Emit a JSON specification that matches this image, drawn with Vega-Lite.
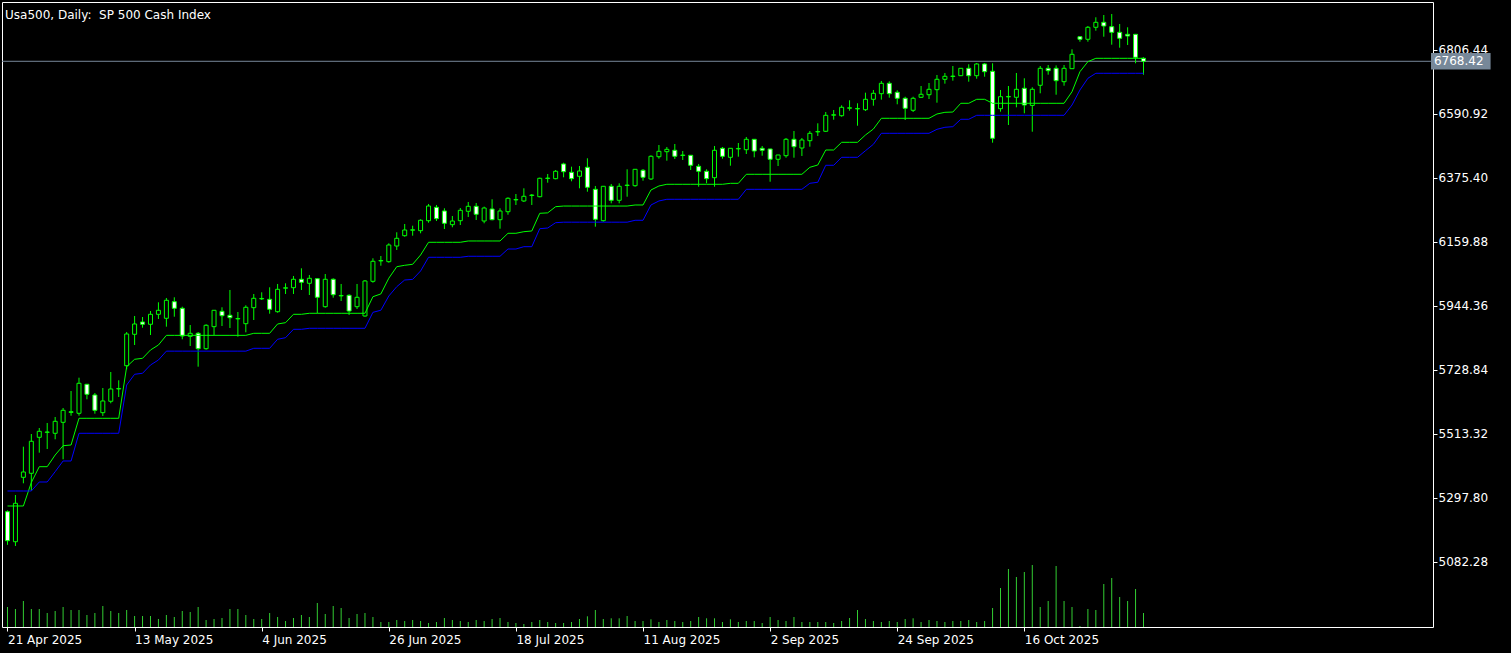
{
"$schema": "https://vega.github.io/schema/vega-lite/v6.json",
"width": 1431, "height": 625,
"autosize": {"type": "none"},
"padding": {"left": 2, "top": 2, "right": 78, "bottom": 26},
"background": "#000000",
"config": {"view": {"stroke": "#ffffff", "strokeWidth": 1}},
"title": {"text": "Usa500, Daily: \u00a0SP 500 Cash Index", "anchor": "start", "frame": "group", "orient": "top", "offset": -15, "dy": 14, "baseline": "alphabetic", "dx": 3, "color": "#ffffff", "font": "DejaVu Sans", "fontSize": 12, "fontWeight": "normal"},
"data": {"values": [
{"i":0,"open":5251.7,"high":5256,"low":5140,"close":5154,"trail1":5270.9,"trail2":5321.4,"volume":20000},
{"i":1,"open":5150.6,"high":5307.9,"low":5136.2,"close":5280,"trail1":5270.9,"trail2":5321.4,"volume":18000},
{"i":2,"open":5367.5,"high":5470.6,"low":5347.3,"close":5385.4,"trail1":5270.9,"trail2":5321.4,"volume":26000},
{"i":3,"open":5381,"high":5513.3,"low":5322.4,"close":5488.8,"trail1":5350,"trail2":5321.4,"volume":18000},
{"i":4,"open":5502.2,"high":5533.5,"low":5450.4,"close":5522.4,"trail1":5403.2,"trail2":5351.7,"volume":18000},
{"i":5,"open":5519,"high":5550.4,"low":5462.8,"close":5520,"trail1":5403.2,"trail2":5351.7,"volume":14000},
{"i":6,"open":5515.7,"high":5570.6,"low":5495.5,"close":5556,"trail1":5442.6,"trail2":5386.4,"volume":16000},
{"i":7,"open":5552.7,"high":5600.9,"low":5428.1,"close":5593.1,"trail1":5473.9,"trail2":5422.4,"volume":20000},
{"i":8,"open":5586,"high":5658.1,"low":5575,"close":5588.5,"trail1":5476.3,"trail2":5422.4,"volume":17000},
{"i":9,"open":5583,"high":5702.9,"low":5575,"close":5684.1,"trail1":5566.2,"trail2":5515.7,"volume":17000},
{"i":10,"open":5680.7,"high":5682,"low":5630.2,"close":5647,"trail1":5566.2,"trail2":5515.7,"volume":12000},
{"i":11,"open":5644.7,"high":5651.4,"low":5581.7,"close":5593.1,"trail1":5566.2,"trail2":5515.7,"volume":14000},
{"i":12,"open":5585.1,"high":5668.2,"low":5574,"close":5624.5,"trail1":5566.2,"trail2":5515.7,"volume":21000},
{"i":13,"open":5623.5,"high":5722.1,"low":5616.7,"close":5664.9,"trail1":5566.2,"trail2":5515.7,"volume":16000},
{"i":14,"open":5665,"high":5694.2,"low":5637.9,"close":5666.5,"trail1":5566.2,"trail2":5515.7,"volume":14000},
{"i":15,"open":5743.3,"high":5856.8,"low":5731.2,"close":5850.1,"trail1":5740,"trail2":5678.3,"volume":17000},
{"i":16,"open":5849.1,"high":5910.7,"low":5813,"close":5883.8,"trail1":5764.9,"trail2":5714.4,"volume":11000},
{"i":17,"open":5890.5,"high":5907.3,"low":5871.3,"close":5882.8,"trail1":5768.2,"trail2":5717.8,"volume":11000},
{"i":18,"open":5882.8,"high":5927.5,"low":5846.7,"close":5916.4,"trail1":5796.2,"trail2":5745.7,"volume":11000},
{"i":19,"open":5916.4,"high":5956.8,"low":5900.6,"close":5929.9,"trail1":5813,"trail2":5762.5,"volume":8000},
{"i":20,"open":5903,"high":5971.3,"low":5874.7,"close":5963.6,"trail1":5845.5,"trail2":5792.3,"volume":12000},
{"i":21,"open":5958.9,"high":5973.7,"low":5908.3,"close":5936.6,"trail1":5845.5,"trail2":5792.3,"volume":10000},
{"i":22,"open":5936.6,"high":5942,"low":5832.3,"close":5843.4,"trail1":5845.5,"trail2":5792.3,"volume":16000},
{"i":23,"open":5842.3,"high":5880.4,"low":5809.7,"close":5852.4,"trail1":5845.5,"trail2":5792.3,"volume":15000},
{"i":24,"open":5852.4,"high":5856.8,"low":5740,"close":5800.6,"trail1":5845.5,"trail2":5792.3,"volume":20000},
{"i":25,"open":5800.6,"high":5882.8,"low":5797.2,"close":5879.4,"trail1":5845.5,"trail2":5792.3,"volume":7000},
{"i":26,"open":5874.7,"high":5931,"low":5846.7,"close":5929.9,"trail1":5845.5,"trail2":5792.3,"volume":8000},
{"i":27,"open":5926.5,"high":5940,"low":5877,"close":5911.7,"trail1":5845.5,"trail2":5792.3,"volume":9000},
{"i":28,"open":5913,"high":5998.3,"low":5870.3,"close":5905,"trail1":5845.5,"trail2":5792.3,"volume":18000},
{"i":29,"open":5901,"high":5924.2,"low":5841,"close":5902.2,"trail1":5845.5,"trail2":5792.3,"volume":18000},
{"i":30,"open":5884.8,"high":5946.7,"low":5855.8,"close":5940,"trail1":5845.5,"trail2":5792.3,"volume":12000},
{"i":31,"open":5938.7,"high":5984.8,"low":5897.2,"close":5970.3,"trail1":5852.4,"trail2":5801.9,"volume":8000},
{"i":32,"open":5968.3,"high":5990.5,"low":5964.6,"close":5969.7,"trail1":5852.4,"trail2":5801.9,"volume":8000},
{"i":33,"open":5966.9,"high":6007.3,"low":5918.4,"close":5933.3,"trail1":5852.4,"trail2":5801.9,"volume":14000},
{"i":34,"open":5925.2,"high":6018.5,"low":5921.8,"close":6000.6,"trail1":5883.8,"trail2":5832.3,"volume":10000},
{"i":35,"open":6004.3,"high":6020.8,"low":5984.8,"close":6005.7,"trail1":5888.2,"trail2":5837.6,"volume":6000},
{"i":36,"open":6006,"high":6045.4,"low":5984.8,"close":6034.3,"trail1":5916.4,"trail2":5865.9,"volume":9000},
{"i":37,"open":6034.3,"high":6071.3,"low":5998.3,"close":6024.2,"trail1":5916.4,"trail2":5865.9,"volume":12000},
{"i":38,"open":6020.8,"high":6048.8,"low":5981.4,"close":6037.7,"trail1":5919.8,"trail2":5869.3,"volume":10000},
{"i":39,"open":6036.3,"high":6037,"low":5919.8,"close":5973.7,"trail1":5919.8,"trail2":5869.3,"volume":24000},
{"i":40,"open":5942,"high":6052.1,"low":5938.7,"close":6034.3,"trail1":5919.8,"trail2":5869.3,"volume":13000},
{"i":41,"open":6034.3,"high":6037.7,"low":5972.3,"close":5982.4,"trail1":5919.8,"trail2":5869.3,"volume":21000},
{"i":42,"open":5978.4,"high":6018.5,"low":5961.2,"close":5979.8,"trail1":5919.8,"trail2":5869.3,"volume":19000},
{"i":43,"open":5980.4,"high":5983.8,"low":5914.1,"close":5927.5,"trail1":5919.8,"trail2":5869.3,"volume":9000},
{"i":44,"open":5942,"high":6018.5,"low":5934.3,"close":5973.7,"trail1":5919.8,"trail2":5869.3,"volume":13000},
{"i":45,"open":5910.7,"high":6031.9,"low":5908.3,"close":6028.6,"trail1":5919.8,"trail2":5869.3,"volume":14000},
{"i":46,"open":6027.5,"high":6105,"low":6022.8,"close":6094.9,"trail1":5975.7,"trail2":5923.1,"volume":10000},
{"i":47,"open":6096.2,"high":6112.8,"low":6080.1,"close":6097.6,"trail1":5985,"trail2":5930,"volume":5000},
{"i":48,"open":6093.6,"high":6155.5,"low":6090.2,"close":6149.8,"trail1":6038,"trail2":5978,"volume":5000},
{"i":49,"open":6146.4,"high":6192.6,"low":6133,"close":6172.3,"trail1":6076.7,"trail2":6009.4,"volume":7000},
{"i":50,"open":6181.1,"high":6220.5,"low":6177.7,"close":6200.3,"trail1":6081.4,"trail2":6031.9,"volume":6000},
{"i":51,"open":6199.6,"high":6214.8,"low":6181.1,"close":6201,"trail1":6084.8,"trail2":6034,"volume":7000},
{"i":52,"open":6198,"high":6236.3,"low":6189.2,"close":6233,"trail1":6116.1,"trail2":6062.3,"volume":6000},
{"i":53,"open":6231.6,"high":6287.9,"low":6224.9,"close":6281.1,"trail1":6158.9,"trail2":6108.4,"volume":4000},
{"i":54,"open":6276.7,"high":6284.5,"low":6230.6,"close":6238.4,"trail1":6158.9,"trail2":6108.4,"volume":5000},
{"i":55,"open":6264.3,"high":6273.4,"low":6203.7,"close":6222.9,"trail1":6158.9,"trail2":6108.4,"volume":9000},
{"i":56,"open":6218.2,"high":6247.5,"low":6209.4,"close":6230.6,"trail1":6158.9,"trail2":6108.4,"volume":7000},
{"i":57,"open":6231.6,"high":6274.4,"low":6217.1,"close":6266.6,"trail1":6158.9,"trail2":6108.4,"volume":6000},
{"i":58,"open":6263.3,"high":6294.6,"low":6244.1,"close":6280.1,"trail1":6163.3,"trail2":6111.8,"volume":5000},
{"i":59,"open":6280.1,"high":6291.2,"low":6234,"close":6253.2,"trail1":6163.3,"trail2":6111.8,"volume":7000},
{"i":60,"open":6230.6,"high":6278.9,"low":6222.9,"close":6274.4,"trail1":6163.3,"trail2":6111.8,"volume":6000},
{"i":61,"open":6271,"high":6303.7,"low":6232.9,"close":6235,"trail1":6163.3,"trail2":6111.8,"volume":8000},
{"i":62,"open":6235,"high":6273.4,"low":6204.7,"close":6264.3,"trail1":6163.3,"trail2":6111.8,"volume":9000},
{"i":63,"open":6261.9,"high":6310.4,"low":6251.8,"close":6307.1,"trail1":6189.2,"trail2":6136.3,"volume":5000},
{"i":64,"open":6301.6,"high":6321.5,"low":6284.5,"close":6303,"trail1":6189.2,"trail2":6136.3,"volume":4000},
{"i":65,"open":6298,"high":6340.7,"low":6294.6,"close":6313.8,"trail1":6194.6,"trail2":6144.1,"volume":3000},
{"i":66,"open":6316.5,"high":6321.5,"low":6284.5,"close":6317.9,"trail1":6197,"trail2":6144.1,"volume":5000},
{"i":67,"open":6312.4,"high":6376.4,"low":6310.4,"close":6374.4,"trail1":6256.5,"trail2":6204.7,"volume":7000},
{"i":68,"open":6373.7,"high":6388.9,"low":6359.6,"close":6375.1,"trail1":6258,"trail2":6207,"volume":5000},
{"i":69,"open":6373.1,"high":6402.3,"low":6371,"close":6398,"trail1":6278.8,"trail2":6224.9,"volume":4000},
{"i":70,"open":6422.6,"high":6426.9,"low":6377.8,"close":6396.6,"trail1":6281,"trail2":6226.6,"volume":4000},
{"i":71,"open":6394.6,"high":6413.5,"low":6364.3,"close":6373.1,"trail1":6281,"trail2":6226.6,"volume":5000},
{"i":72,"open":6381.1,"high":6415.8,"low":6340.7,"close":6399,"trail1":6281,"trail2":6226.6,"volume":8000},
{"i":73,"open":6411.4,"high":6441.8,"low":6329.3,"close":6344.1,"trail1":6281,"trail2":6226.6,"volume":10700},
{"i":74,"open":6337.3,"high":6348.5,"low":6211.4,"close":6236.3,"trail1":6281,"trail2":6226.6,"volume":17000},
{"i":75,"open":6231.6,"high":6348,"low":6228.3,"close":6347.5,"trail1":6281,"trail2":6226.6,"volume":8000},
{"i":76,"open":6347.5,"high":6355.2,"low":6290.2,"close":6300.3,"trail1":6281,"trail2":6226.6,"volume":8700},
{"i":77,"open":6300.3,"high":6357.5,"low":6290.2,"close":6347.5,"trail1":6281,"trail2":6226.6,"volume":8700},
{"i":78,"open":6350.1,"high":6404.7,"low":6312.4,"close":6351.5,"trail1":6281,"trail2":6226.6,"volume":11000},
{"i":79,"open":6349.5,"high":6405,"low":6346.1,"close":6404.7,"trail1":6284.5,"trail2":6233,"volume":6000},
{"i":80,"open":6401.3,"high":6405.7,"low":6366.3,"close":6377.8,"trail1":6284.5,"trail2":6233,"volume":6000},
{"i":81,"open":6372.1,"high":6451.9,"low":6368.7,"close":6448.5,"trail1":6335,"trail2":6284.5,"volume":7700},
{"i":82,"open":6447.1,"high":6486.5,"low":6440.4,"close":6465.3,"trail1":6348.5,"trail2":6298,"volume":5000},
{"i":83,"open":6464,"high":6479.8,"low":6433.7,"close":6472,"trail1":6354.2,"trail2":6303.7,"volume":7000},
{"i":84,"open":6468.7,"high":6489.9,"low":6439.4,"close":6448.5,"trail1":6354.2,"trail2":6303.7,"volume":6000},
{"i":85,"open":6451.2,"high":6466.3,"low":6436,"close":6452.6,"trail1":6354.2,"trail2":6303.7,"volume":5000},
{"i":86,"open":6451.9,"high":6452.5,"low":6402.3,"close":6418.2,"trail1":6354.2,"trail2":6303.7,"volume":6000},
{"i":87,"open":6414.8,"high":6422.6,"low":6346.1,"close":6398,"trail1":6354.2,"trail2":6303.7,"volume":10000},
{"i":88,"open":6398,"high":6404.7,"low":6357.6,"close":6373.1,"trail1":6354.2,"trail2":6303.7,"volume":8700},
{"i":89,"open":6376.4,"high":6483.2,"low":6346.1,"close":6468.7,"trail1":6354.2,"trail2":6303.7,"volume":8700},
{"i":90,"open":6475.4,"high":6479.8,"low":6440.4,"close":6448.5,"trail1":6354.2,"trail2":6303.7,"volume":5000},
{"i":91,"open":6445.1,"high":6476,"low":6416.8,"close":6475.4,"trail1":6357.5,"trail2":6303.7,"volume":7700},
{"i":92,"open":6473.4,"high":6493.3,"low":6447.1,"close":6474.8,"trail1":6357.5,"trail2":6303.7,"volume":5000},
{"i":93,"open":6470.7,"high":6513.5,"low":6456.2,"close":6505.7,"trail1":6387.9,"trail2":6337.3,"volume":6000},
{"i":94,"open":6505.7,"high":6506.3,"low":6445.1,"close":6466.3,"trail1":6387.9,"trail2":6337.3,"volume":6000},
{"i":95,"open":6475.4,"high":6483.2,"low":6450.5,"close":6468.7,"trail1":6387.9,"trail2":6337.3,"volume":4000},
{"i":96,"open":6473.1,"high":6473.6,"low":6362.9,"close":6438.4,"trail1":6387.9,"trail2":6337.3,"volume":10000},
{"i":97,"open":6438.4,"high":6453.4,"low":6415.8,"close":6452.9,"trail1":6387.9,"trail2":6337.3,"volume":7000},
{"i":98,"open":6450.5,"high":6510.1,"low":6443.8,"close":6505.7,"trail1":6387.9,"trail2":6337.3,"volume":6000},
{"i":99,"open":6505.7,"high":6533.7,"low":6443.8,"close":6480.8,"trail1":6387.9,"trail2":6337.3,"volume":10000},
{"i":100,"open":6476.4,"high":6510.1,"low":6449.5,"close":6503.4,"trail1":6387.9,"trail2":6337.3,"volume":5000},
{"i":101,"open":6501,"high":6533.7,"low":6480.8,"close":6525.9,"trail1":6411.4,"trail2":6357.6,"volume":5000},
{"i":102,"open":6530.6,"high":6559.6,"low":6516.9,"close":6532,"trail1":6419.2,"trail2":6361,"volume":5000},
{"i":103,"open":6532.7,"high":6597.7,"low":6530.3,"close":6586.5,"trail1":6469.7,"trail2":6418.2,"volume":5000},
{"i":104,"open":6586.9,"high":6604.4,"low":6571.7,"close":6588.3,"trail1":6469.7,"trail2":6418.2,"volume":4000},
{"i":105,"open":6585.2,"high":6620.2,"low":6581.8,"close":6613.5,"trail1":6495.6,"trail2":6445.1,"volume":6000},
{"i":106,"open":6610.4,"high":6637.1,"low":6602.1,"close":6611.8,"trail1":6495.6,"trail2":6445.1,"volume":9000},
{"i":107,"open":6608.1,"high":6627,"low":6551.5,"close":6609.5,"trail1":6495.6,"trail2":6445.1,"volume":17000},
{"i":108,"open":6605.4,"high":6662.7,"low":6601,"close":6640.4,"trail1":6520.2,"trail2":6467.3,"volume":8000},
{"i":109,"open":6640.4,"high":6671.8,"low":6618.9,"close":6660.6,"trail1":6540.4,"trail2":6488.9,"volume":6000},
{"i":110,"open":6659.3,"high":6702.1,"low":6639.3,"close":6694.3,"trail1":6576.5,"trail2":6525.9,"volume":5000},
{"i":111,"open":6694.3,"high":6701,"low":6645.8,"close":6659.3,"trail1":6576.5,"trail2":6525.9,"volume":6000},
{"i":112,"open":6664,"high":6670.8,"low":6623.6,"close":6643.8,"trail1":6576.5,"trail2":6525.9,"volume":5000},
{"i":113,"open":6643.8,"high":6649.1,"low":6570.7,"close":6610.1,"trail1":6576.5,"trail2":6525.9,"volume":8000},
{"i":114,"open":6603.4,"high":6649.1,"low":6597.7,"close":6643.8,"trail1":6576.5,"trail2":6525.9,"volume":8700},
{"i":115,"open":6647.2,"high":6685.2,"low":6644.8,"close":6657.3,"trail1":6576.5,"trail2":6525.9,"volume":5000},
{"i":116,"open":6655.9,"high":6695.3,"low":6641.4,"close":6674.1,"trail1":6576.5,"trail2":6525.9,"volume":7000},
{"i":117,"open":6672.8,"high":6722.3,"low":6629,"close":6707.8,"trail1":6590.9,"trail2":6539.4,"volume":6000},
{"i":118,"open":6707.8,"high":6729,"low":6693,"close":6717.9,"trail1":6596.6,"trail2":6546.1,"volume":5000},
{"i":119,"open":6717.2,"high":6752.6,"low":6703.1,"close":6718.6,"trail1":6597.5,"trail2":6548.2,"volume":6000},
{"i":120,"open":6719.9,"high":6745.5,"low":6719.2,"close":6744.8,"trail1":6627,"trail2":6573.1,"volume":6000},
{"i":121,"open":6744.8,"high":6758.3,"low":6699.7,"close":6719.9,"trail1":6627,"trail2":6573.1,"volume":7000},
{"i":122,"open":6719.9,"high":6762.7,"low":6709.8,"close":6759.3,"trail1":6640.4,"trail2":6586.5,"volume":5000},
{"i":123,"open":6759.3,"high":6762.7,"low":6716.5,"close":6733.4,"trail1":6640.4,"trail2":6586.5,"volume":6000},
{"i":124,"open":6734.7,"high":6761.7,"low":6494.3,"close":6509.1,"trail1":6627,"trail2":6586.5,"volume":19000},
{"i":125,"open":6608.8,"high":6671.8,"low":6598.7,"close":6649.2,"trail1":6627,"trail2":6586.5,"volume":39000},
{"i":126,"open":6648.5,"high":6685.2,"low":6553.9,"close":6649.9,"trail1":6627,"trail2":6586.5,"volume":58000},
{"i":127,"open":6647.2,"high":6729,"low":6613.5,"close":6674.1,"trail1":6627,"trail2":6586.5,"volume":50000},
{"i":128,"open":6677.5,"high":6711.2,"low":6593.3,"close":6621.2,"trail1":6627,"trail2":6586.5,"volume":55000},
{"i":129,"open":6619.9,"high":6680.8,"low":6531.3,"close":6674.1,"trail1":6627,"trail2":6586.5,"volume":62000},
{"i":130,"open":6687.6,"high":6752.6,"low":6660.6,"close":6744.8,"trail1":6627,"trail2":6586.5,"volume":20000},
{"i":131,"open":6744.8,"high":6755.9,"low":6723.3,"close":6736.8,"trail1":6627,"trail2":6586.5,"volume":26000},
{"i":132,"open":6744.8,"high":6754.6,"low":6655.9,"close":6703.1,"trail1":6627,"trail2":6586.5,"volume":61000},
{"i":133,"open":6699.7,"high":6755.9,"low":6686.2,"close":6744.8,"trail1":6627,"trail2":6586.5,"volume":26000},
{"i":134,"open":6743.5,"high":6808.8,"low":6743,"close":6792,"trail1":6666,"trail2":6621.2,"volume":20000},
{"i":135,"open":6851.2,"high":6851.5,"low":6834.4,"close":6842.5,"trail1":6733.4,"trail2":6671.8,"volume":1000},
{"i":136,"open":6842.5,"high":6887.3,"low":6834.4,"close":6882.9,"trail1":6767.1,"trail2":6711.2,"volume":18000},
{"i":137,"open":6882.9,"high":6916.6,"low":6871.5,"close":6899.7,"trail1":6778.5,"trail2":6728,"volume":17000},
{"i":138,"open":6899.7,"high":6924.3,"low":6851.2,"close":6887.3,"trail1":6778.5,"trail2":6728,"volume":43000},
{"i":139,"open":6884.9,"high":6927.7,"low":6824.3,"close":6866,"trail1":6778.5,"trail2":6728,"volume":49000},
{"i":140,"open":6866,"high":6894,"low":6814.2,"close":6845.9,"trail1":6778.5,"trail2":6728,"volume":30000},
{"i":141,"open":6859.3,"high":6882.9,"low":6823.3,"close":6853.6,"trail1":6778.5,"trail2":6728,"volume":26000},
{"i":142,"open":6859.3,"high":6859.6,"low":6761.7,"close":6781.9,"trail1":6778.5,"trail2":6728,"volume":38000},
{"i":143,"open":6778.5,"high":6781.9,"low":6723.3,"close":6768.42,"trail1":6778.5,"trail2":6728,"volume":14000}
]},
"layer": [
{
 "mark": {"type": "rule", "color": "#32cd32", "strokeWidth": 1},
 "encoding": {
  "x": {"field": "i", "type": "quantitative", "scale": {"domain": [-0.0625, 178.8125], "nice": false, "zero": false},
   "axis": {"values": [0,16,32,48,64,80,96,112,128], "labelExpr": "['21 Apr 2025','13 May 2025','4 Jun 2025','26 Jun 2025','18 Jul 2025','11 Aug 2025','2 Sep 2025','24 Sep 2025','16 Oct 2025'][round(datum.value/16)]", "labelAlign": "left", "labelBaseline": "top", "labelPadding": 3, "labelDx": 0, "tickSize": 4, "tickColor": "#ffffff", "labelColor": "#ffffff", "labelFont": "DejaVu Sans", "labelFontSize": 12, "domain": false, "grid": false, "title": null, "labelOverlap": false, "labelFlush": false, "labelBound": false}},
  "y": {"field": "volume", "type": "quantitative", "scale": {"domain": [0, 625000], "nice": false, "zero": true}, "axis": null},
  "y2": {"datum": 0}
 }
},
{
 "layer": [
  {
   "data": {"values": [{"price": 6768.42}]},
   "mark": {"type": "rule", "color": "#778899", "strokeWidth": 1},
   "encoding": {
    "y": {"field": "price", "type": "quantitative", "scale": {"domain": [4863.39, 6968.08], "nice": false, "zero": false},
     "axis": {"orient": "right", "values": [5082.28,5297.80,5513.32,5728.84,5944.36,6159.88,6375.40,6590.92,6806.44], "format": ".2f", "tickSize": 4, "tickColor": "#ffffff", "labelColor": "#ffffff", "labelFont": "DejaVu Sans", "labelFontSize": 12, "labelPadding": 1, "domain": false, "grid": false, "title": null, "labelOverlap": false, "labelFlush": false, "labelBound": false}}
   }
  },
  {
   "mark": {"type": "rule", "color": "#00ff00", "strokeWidth": 1, "clip": true},
   "encoding": {
    "x": {"field": "i", "type": "quantitative"},
    "y": {"field": "low", "type": "quantitative"},
    "y2": {"field": "high"}
   }
  },
  {
   "mark": {"type": "bar", "width": 4, "stroke": "#00ff00", "strokeWidth": 1, "clip": true},
   "encoding": {
    "x": {"field": "i", "type": "quantitative"},
    "y": {"field": "open", "type": "quantitative"},
    "y2": {"field": "close"},
    "fill": {"condition": {"test": "datum.close < datum.open", "value": "#ffffff"}, "value": "#000000"}
   }
  },
  {
   "mark": {"type": "line", "color": "#00ff00", "strokeWidth": 1, "interpolate": "linear"},
   "encoding": {
    "x": {"field": "i", "type": "quantitative"},
    "y": {"field": "trail1", "type": "quantitative"}
   }
  },
  {
   "mark": {"type": "line", "color": "#0000ff", "strokeWidth": 1, "interpolate": "linear"},
   "encoding": {
    "x": {"field": "i", "type": "quantitative"},
    "y": {"field": "trail2", "type": "quantitative"}
   }
  },
  {
   "data": {"values": [{"price": 6768.42, "label": "6768.42"}]},
   "mark": {"type": "rect", "color": "#778899"},
   "encoding": {
    "x": {"datum": 179.19},
    "x2": {"datum": 186.69},
    "y": {"datum": 6796.4},
    "y2": {"datum": 6740.4}
   }
  },
  {
   "data": {"values": [{"price": 6768.42, "label": "6768.42"}]},
   "mark": {"type": "text", "align": "left", "baseline": "middle", "color": "#ffffff", "font": "DejaVu Sans", "fontSize": 12},
   "encoding": {
    "x": {"datum": 179.56},
    "y": {"field": "price", "type": "quantitative"},
    "text": {"field": "label"}
   }
  }
 ]
}
],
"resolve": {"scale": {"y": "independent"}}
}
